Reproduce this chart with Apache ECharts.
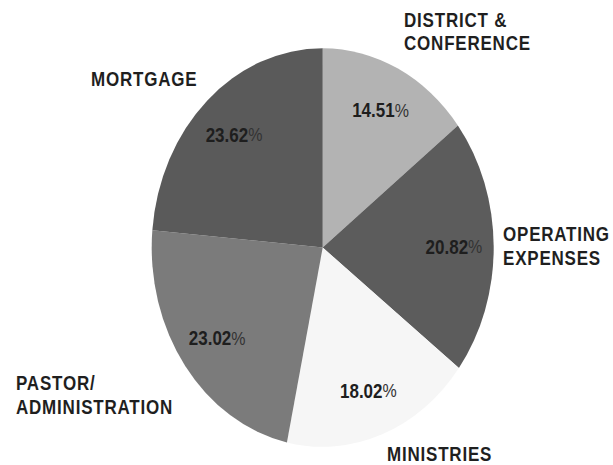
<!DOCTYPE html>
<html><head><meta charset="utf-8">
<script src="https://cdn.jsdelivr.net/npm/echarts/dist/echarts.min.js"></script>
<style>
html,body{margin:0;padding:0;background:#fff;overflow:hidden}
#wrap{width:613px;height:465px;overflow:hidden}
#chart{width:613px;height:399px;transform:scaleY(1.1654);transform-origin:0 0}
#chart text[fill="#1f1f1f"], #chart text[fill="rgb(31,31,31)"]{letter-spacing:0.8px}
</style></head><body><div id="wrap"><div id="chart"></div></div>
<script>
const categories = ['DISTRICT &\nCONFERENCE', 'OPERATING\nEXPENSES', 'MINISTRIES', 'PASTOR/\nADMINISTRATION', 'MORTGAGE'];
const shares = [14.51, 20.82, 18.02, 23.02, 23.62];
const sliceColors = ['#b3b3b3', '#5c5c5c', '#f6f6f6', '#7b7b7b', '#5a5a5a'];
const nameLabelPos = [[404, 27], [503, 211], [387, 390], [16, 339], [91, 68]];

const FONT = "'Liberation Sans', Arial, sans-serif";
const chart = echarts.init(document.getElementById('chart'), null, {renderer: 'svg'});
const pieCenter = [322.7, 212.4];
const R = 171;

const mainData = categories.map((c, i) => ({name: c, value: shares[i], itemStyle: {color: sliceColors[i]}}));
const ringData = categories.map((c, i) => ({name: c, value: shares[i]}));

chart.setOption({
  backgroundColor: '#ffffff',
  animation: false,
  series: [
    {
      type: 'pie',
      center: pieCenter,
      radius: [0, R],
      startAngle: 90,
      clockwise: true,
      avoidLabelOverlap: false,
      silent: true,
      itemStyle: {borderWidth: 0},
      label: {
        show: true, position: 'outside',
        formatter: '{b}',
        fontFamily: FONT, fontSize: 17, fontWeight: 'bold', lineHeight: 20,
        color: '#1f1f1f'
      },
      labelLine: {show: false},
      labelLayout: function (params) {
        const p = nameLabelPos[params.dataIndex];
        return {x: p[0], y: p[1], align: 'left', verticalAlign: 'middle'};
      },
      emphasis: {disabled: true},
      data: mainData
    },
    {
      type: 'pie',
      center: pieCenter,
      radius: [R / 2, R],
      startAngle: 90,
      clockwise: true,
      silent: true,
      avoidLabelOverlap: false,
      itemStyle: {color: 'rgba(0,0,0,0)', borderWidth: 0},
      label: {
        show: true, position: 'inside',
        formatter: function (p) { return '{n|' + p.value.toFixed(2) + '}{p|%}'; },
        rich: {
          n: {fontFamily: FONT, fontSize: 17, fontWeight: 'bold', color: '#1e1e1e'},
          p: {fontFamily: FONT, fontSize: 16, fontWeight: 'normal', color: '#333333'}
        }
      },
      labelLine: {show: false},
      emphasis: {disabled: true},
      data: ringData
    }
  ]
});
</script></body></html>
